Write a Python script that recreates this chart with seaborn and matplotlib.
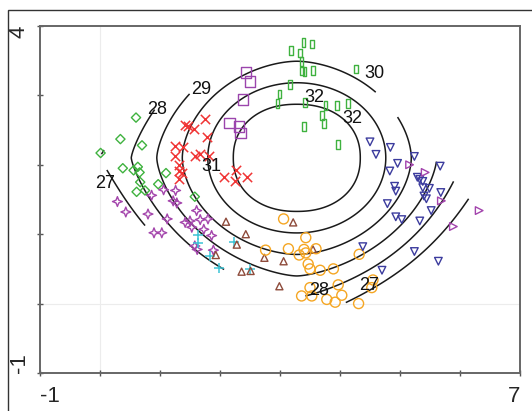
import numpy as np
import seaborn as sns
import matplotlib
matplotlib.use("Agg")
import matplotlib.pyplot as plt
from matplotlib.path import Path
from matplotlib.patches import Rectangle

# sample scores per group
green_diamond_x = [0.01, 0.34, 0.60, 0.70, 0.38, 0.56, 0.63, 0.66, 0.67, 0.61, 0.75, 0.97, 1.10, 1.58]
green_diamond_y = [2.17, 2.37, 2.68, 2.28, 1.95, 1.92, 1.97, 1.89, 1.75, 1.61, 1.63, 1.72, 1.88, 1.54]

green_rect_x = [3.18, 3.39, 3.53, 3.33, 3.36, 3.37, 3.41, 3.55, 4.27, 3.17,
                2.99, 2.96, 3.42, 3.76, 3.95, 4.13, 3.70, 3.73, 3.40, 3.97]
green_rect_y = [3.65, 3.76, 3.74, 3.61, 3.49, 3.35, 3.34, 3.36, 3.38, 3.16,
                3.02, 2.88, 2.90, 2.85, 2.85, 2.88, 2.71, 2.59, 2.55, 2.29]

purple_square_x = [2.43, 2.50, 2.38, 2.16, 2.32, 2.34]
purple_square_y = [3.33, 3.20, 2.94, 2.60, 2.55, 2.46]

red_x_x = [1.42, 1.47, 1.57, 1.75, 1.79, 1.25, 1.38, 1.25, 1.58, 1.66,
           1.82, 1.31, 1.32, 1.36, 1.31, 2.06, 2.27, 2.25, 2.45]
red_x_y = [2.58, 2.56, 2.52, 2.66, 2.40, 2.27, 2.26, 2.12, 2.12, 2.16,
           2.12, 1.99, 1.91, 1.88, 1.80, 1.83, 1.93, 1.76, 1.83]

star_x = [0.29, 0.43, 0.80, 0.90, 1.03, 1.06, 1.26, 1.22, 1.28, 0.86, 1.12,
          1.42, 1.50, 1.53, 1.61, 1.67, 1.80, 1.73, 1.86, 1.58, 1.62, 1.89]
star_y = [1.47, 1.32, 1.29, 1.02, 1.02, 1.64, 1.63, 1.48, 1.45, 1.56, 1.22,
          1.17, 1.19, 1.10, 1.34, 1.21, 1.22, 1.07, 0.98, 0.83, 0.78, 0.77]

cyan_plus_x = [1.64, 1.64, 1.83, 1.99, 2.23, 2.50]
cyan_plus_y = [0.99, 0.87, 0.68, 0.51, 0.89, 0.50]

brown_tri_x = [2.10, 2.43, 2.28, 1.93, 2.74, 3.06, 2.36, 2.51, 2.99, 3.22, 3.55]
brown_tri_y = [1.18, 1.00, 0.85, 0.70, 0.66, 0.61, 0.46, 0.47, 0.25, 1.17, 0.78]

orange_x = [3.06, 3.43, 2.76, 3.14, 3.40, 3.43, 3.32, 3.60, 4.32, 3.47, 3.50, 3.67,
            3.89, 3.97, 4.55, 4.53, 3.50, 3.36, 3.53, 3.78, 3.92, 4.03, 4.31]
orange_y = [1.22, 0.95, 0.77, 0.79, 0.78, 0.73, 0.70, 0.79, 0.71, 0.57, 0.50, 0.48,
            0.50, 0.27, 0.34, 0.23, 0.23, 0.11, 0.11, 0.06, 0.02, 0.12, 0.00]

navy_x = [4.50, 4.60, 4.84, 4.96, 4.83, 5.24, 5.67, 5.29, 5.33, 5.38, 4.91, 4.93, 5.38,
          5.49, 5.40, 5.44, 5.68, 4.79, 5.52, 4.93, 5.03, 5.33, 4.38, 5.24, 5.64, 4.70]
navy_y = [2.33, 2.15, 2.25, 2.02, 1.91, 2.12, 1.98, 1.82, 1.79, 1.76, 1.69, 1.62, 1.67,
          1.66, 1.55, 1.51, 1.60, 1.44, 1.34, 1.25, 1.21, 1.19, 0.82, 0.75, 0.61, 0.48]

violet_tri_x = [5.16, 5.42, 5.69, 6.32, 5.89]
violet_tri_y = [2.00, 1.89, 1.48, 1.34, 1.11]

# fitted response surface (contoured variable)
surface_peak = 34.49
surface_centre_x = 3.28
surface_centre_y = 2.10
surface_scale_x = 0.425
surface_scale_y = 0.31
surface_shape_inner = 2.2
surface_shape_slope = 0.2
surface_flatten_from = 6.49
surface_flatten = 0.19
contour_levels = [27, 28, 29, 30, 31, 32]

contour_label_text = ["27", "28", "29", "31", "32", "32", "30", "28", "27"]
contour_label_x = [0.08, 0.96, 1.68, 1.86, 3.58, 4.21, 4.58, 3.65, 4.49]
contour_label_y = [1.73, 2.80, 3.08, 1.98, 2.97, 2.67, 3.32, 0.19, 0.26]

x_ticks = [-1, 0, 1, 2, 3, 4, 5, 6, 7]
x_tick_labels = ["-1", "", "", "", "", "", "", "", "7"]
y_ticks = [-1, 0, 1, 2, 3, 4]
y_tick_labels = ["-1", "", "", "", "", "4"]


def convex_hull(points):
    pts = sorted(set(points))

    def cross(o, a, b):
        return (a[0] - o[0]) * (b[1] - o[1]) - (a[1] - o[1]) * (b[0] - o[0])

    lower, upper = [], []
    for p in pts:
        while len(lower) >= 2 and cross(lower[-2], lower[-1], p) <= 0:
            lower.pop()
        lower.append(p)
    for p in reversed(pts):
        while len(upper) >= 2 and cross(upper[-2], upper[-1], p) <= 0:
            upper.pop()
        upper.append(p)
    return lower[:-1] + upper[:-1]


def pnorm(u, v, p):
    return (np.abs(u) ** p + np.abs(v) ** p) ** (1.0 / p)


star = Path([(0, 1), (0.28, 0.28), (1, 0), (0.28, -0.28), (0, -1),
             (-0.28, -0.28), (-1, 0), (-0.28, 0.28), (0, 1)], closed=True)
tall_rect = Path([(-0.4, -1), (0.4, -1), (0.4, 1), (-0.4, 1), (-0.4, -1)], closed=True)

groups = [
    (green_diamond_x, green_diamond_y, "D", "#3fb23f", 22, True),
    (green_rect_x, green_rect_y, tall_rect, "#3fb23f", 40, True),
    (purple_square_x, purple_square_y, "s", "#9b45ad", 55, True),
    (red_x_x, red_x_y, "x", "#f03535", 45, False),
    (star_x, star_y, star, "#a446ac", 50, True),
    (cyan_plus_x, cyan_plus_y, "+", "#3cc4d6", 60, False),
    (brown_tri_x, brown_tri_y, "^", "#8e4b3b", 26, True),
    (orange_x, orange_y, "o", "#f5a623", 52, True),
    (navy_x, navy_y, "v", "#3c3c9e", 30, True),
    (violet_tri_x, violet_tri_y, ">", "#a344ad", 30, True),
]

sns.set_style("ticks")
plt.rcParams["font.family"] = ["Liberation Sans", "DejaVu Sans"]

fig = plt.figure(figsize=(5.32, 4.11), dpi=100)
ax = fig.add_axes([0.0752, 0.0925, 0.9022, 0.8443])

# surface only inside the hull of the samples
all_pts = []
for gx_, gy_, *_ in groups:
    all_pts += list(zip(gx_, gy_))
hull = Path(convex_hull(all_pts))

gx = np.linspace(-1, 7, 640)
gy = np.linspace(-1, 4, 420)
GX, GY = np.meshgrid(gx, gy)
U = (GX - surface_centre_x) / surface_scale_x
V = (GY - surface_centre_y) / surface_scale_y
shape = np.clip(surface_shape_inner - surface_shape_slope * (np.hypot(U, V) - 2.49),
                1.2, surface_shape_inner)
r = pnorm(U, V, shape)
Z = surface_peak - r + surface_flatten * np.clip(r - surface_flatten_from, 0, None)
inside = hull.contains_points(np.column_stack([GX.ravel(), GY.ravel()])).reshape(GX.shape)
Z = np.ma.masked_where(~inside, Z)

ax.axvline(0, color="#ececec", lw=0.8, zorder=0)
ax.axhline(0, color="#ececec", lw=0.8, zorder=0)
ax.contour(GX, GY, Z, levels=contour_levels, colors="#1a1a1a", linewidths=1.1, zorder=2)

for xs, ys, marker, col, size, filled in groups:
    if filled:
        sns.scatterplot(x=xs, y=ys, marker=marker, s=size, color=col,
                        facecolor="none", edgecolor=col, linewidth=1.0, ax=ax, zorder=3)
    else:
        sns.scatterplot(x=xs, y=ys, marker=marker, s=size, color=col,
                        linewidth=1.1, ax=ax, zorder=3)

for txt, lx, ly in zip(contour_label_text, contour_label_x, contour_label_y):
    ax.text(lx, ly, txt, fontsize=13, ha="center", va="center", color="#111111", zorder=4)

ax.set_xlim(-1, 7)
ax.set_ylim(-1, 4)
ax.set_xticks(x_ticks)
ax.set_xticklabels(x_tick_labels, fontsize=16)
ax.set_yticks(y_ticks)
ax.set_yticklabels(y_tick_labels, fontsize=16, rotation=90)
ax.tick_params(axis="both", direction="inout", length=5, width=1, color="#555555")
ax.tick_params(axis="x", pad=7)
ax.tick_params(axis="y", pad=5)
xl = ax.get_xticklabels()
xl[0].set_ha("left")
xl[-1].set_ha("right")
yl = ax.get_yticklabels()
yl[0].set_va("bottom")
yl[-1].set_va("top")

for side in ["left", "bottom", "top", "right"]:
    ax.spines[side].set_visible(True)
    ax.spines[side].set_color("#666666")
    ax.spines[side].set_linewidth(1.4)

fig.patches.append(Rectangle((8 / 532, -0.1), 1.2, 1.1 - 10.5 / 411, transform=fig.transFigure,
                             fill=False, edgecolor="#333333", linewidth=1.0))

fig.savefig("out.png", dpi=100)
